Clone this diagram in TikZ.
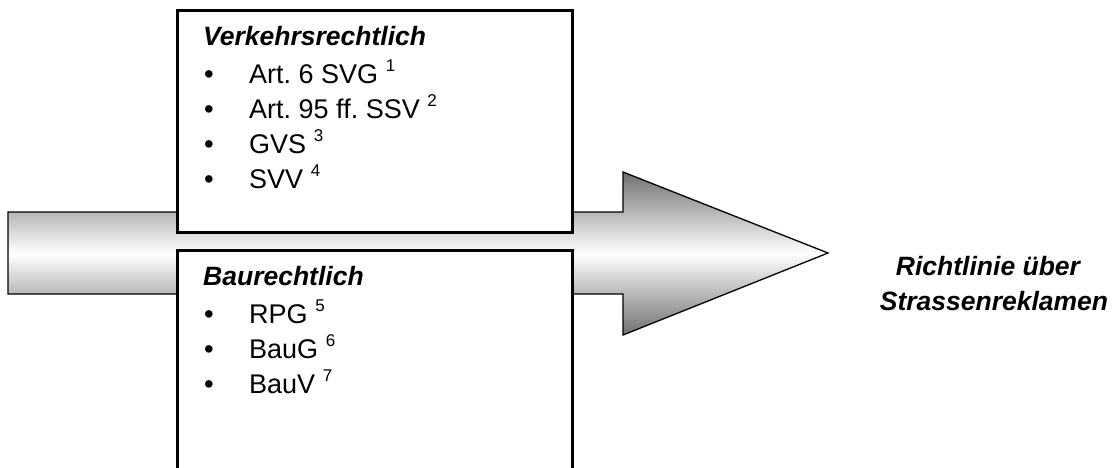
\documentclass[tikz,border=0pt]{standalone}
\usepackage{fontspec}
\setmainfont{Liberation Sans}
\frenchspacing
\definecolor{shadegray}{RGB}{112,112,112}
\newcommand{\fn}[1]{\hspace{0.28em}\raisebox{11.5pt}{\fontsize{17}{17}\selectfont #1}}
\begin{document}
\begin{tikzpicture}[x=1pt,y=-1pt,
  frame/.style={draw=black,line width=3pt,fill=white},
  head/.style={font=\fontsize{26.5}{30}\selectfont\bfseries\itshape,anchor=base west,inner sep=0pt},
  entry/.style={font=\fontsize{27}{30}\selectfont,anchor=base west,inner sep=0pt},
  dot/.style={font=\fontsize{27.5}{30}\selectfont,anchor=base,inner sep=0pt},
  goal/.style={font=\fontsize{26.5}{30}\selectfont\bfseries\itshape,anchor=base,inner sep=0pt}]
\useasboundingbox (0,0) rectangle (1115,467);
\clip (0,0) rectangle (1115,467);

% block arrow, filled with a vertical grey-white-grey gradient built from strips
\begin{scope}
  \clip (8,212) -- (623,212) -- (623,172) -- (828,253) -- (623,335)
    -- (623,294) -- (8,294) -- cycle;
  \foreach \i in {0,...,163}{
    \pgfmathtruncatemacro\p{round(abs(\i-81.5)/81.5*100)}
    \fill[shadegray!\p!white] (8,172+\i) rectangle (830,173.3+\i);
  }
\end{scope}
\draw[black,line width=1.3pt,line join=miter]
  (8,212) -- (623,212) -- (623,172) -- (828,253) -- (623,335)
  -- (623,294) -- (8,294) -- cycle;

% upper box: traffic law
\draw[frame] (177,10) rectangle (572,232);
\node[head] (vt) at (203,45) {Verkehrsrechtlich};
\node[dot] (vb1) at (209,83) {•};
\node[entry] (v1) at (249,83) {Art. 6 SVG\fn{1}};
\node[dot] (vb2) at (209,118) {•};
\node[entry] (v2) at (249,118) {Art. 95 ff. SSV\fn{2}};
\node[dot] (vb3) at (209,153) {•};
\node[entry] (v3) at (249,153) {GVS\fn{3}};
\node[dot] (vb4) at (209,188) {•};
\node[entry] (v4) at (249,188) {SVV\fn{4}};

% lower box: building law
\draw[frame] (177,250) rectangle (572,490);
\node[head] (bt) at (203,285) {Baurechtlich};
\node[dot] (bb1) at (209,323) {•};
\node[entry] (b1) at (249,323) {RPG\fn{5}};
\node[dot] (bb2) at (209,358) {•};
\node[entry] (b2) at (249,358) {BauG\fn{6}};
\node[dot] (bb3) at (209,393) {•};
\node[entry] (b3) at (249,393) {BauV\fn{7}};

% result
\node[goal] (g1) at (988,275) {Richtlinie über};
\node[goal] (g2) at (994,310) {Strassenreklamen};
\end{tikzpicture}
\end{document}
